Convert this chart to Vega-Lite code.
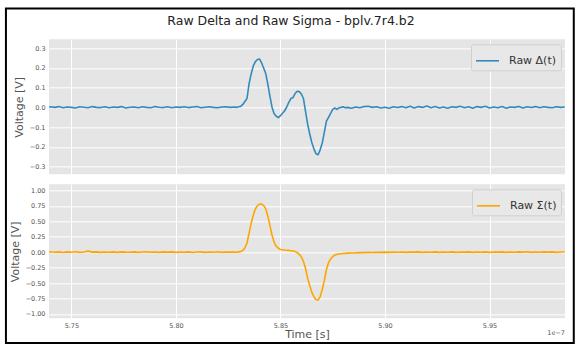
{
  "$schema": "https://vega.github.io/schema/vega-lite/v6.json",
  "autosize": {"type": "pad"},
  "padding": {"left": 4, "top": 7.3, "right": 4, "bottom": 4},
  "background": "white",
  "bounds": "flush",
  "datasets": {
    "sig": [
      {"t": 5.7394, "D": 0.001, "S": 0.004},
      {"t": 5.740, "D": 0.003, "S": 0.008},
      {"t": 5.742, "D": 0.0, "S": 0.0},
      {"t": 5.744, "D": 0.004, "S": 0.006},
      {"t": 5.746, "D": -0.002, "S": -0.004},
      {"t": 5.748, "D": 0.002, "S": 0.005},
      {"t": 5.750, "D": 0.0, "S": 0.0},
      {"t": 5.752, "D": -0.003, "S": 0.007},
      {"t": 5.754, "D": 0.003, "S": -0.003},
      {"t": 5.756, "D": 0.001, "S": 0.004},
      {"t": 5.758, "D": -0.002, "S": 0.018},
      {"t": 5.760, "D": 0.004, "S": 0.002},
      {"t": 5.762, "D": 0.0, "S": 0.006},
      {"t": 5.764, "D": -0.001, "S": -0.002},
      {"t": 5.766, "D": 0.003, "S": 0.004},
      {"t": 5.768, "D": -0.002, "S": 0.0},
      {"t": 5.770, "D": 0.002, "S": 0.005},
      {"t": 5.772, "D": 0.0, "S": -0.003},
      {"t": 5.774, "D": 0.004, "S": 0.006},
      {"t": 5.776, "D": -0.003, "S": 0.002},
      {"t": 5.778, "D": 0.001, "S": 0.0},
      {"t": 5.780, "D": 0.002, "S": 0.006},
      {"t": 5.782, "D": -0.002, "S": -0.002},
      {"t": 5.784, "D": 0.003, "S": 0.004},
      {"t": 5.786, "D": 0.0, "S": 0.007},
      {"t": 5.788, "D": -0.002, "S": 0.0},
      {"t": 5.790, "D": 0.004, "S": 0.003},
      {"t": 5.792, "D": 0.001, "S": -0.003},
      {"t": 5.794, "D": -0.001, "S": 0.005},
      {"t": 5.796, "D": 0.003, "S": 0.002},
      {"t": 5.798, "D": -0.002, "S": 0.006},
      {"t": 5.800, "D": 0.002, "S": -0.002},
      {"t": 5.802, "D": 0.0, "S": 0.004},
      {"t": 5.804, "D": 0.003, "S": 0.0},
      {"t": 5.806, "D": -0.001, "S": 0.006},
      {"t": 5.808, "D": 0.002, "S": -0.004},
      {"t": 5.810, "D": 0.004, "S": 0.003},
      {"t": 5.812, "D": -0.002, "S": 0.006},
      {"t": 5.814, "D": 0.001, "S": -0.002},
      {"t": 5.816, "D": 0.003, "S": 0.004},
      {"t": 5.818, "D": 0.0, "S": 0.0},
      {"t": 5.820, "D": -0.002, "S": 0.007},
      {"t": 5.822, "D": 0.002, "S": -0.003},
      {"t": 5.824, "D": 0.003, "S": 0.004},
      {"t": 5.826, "D": 0.0, "S": 0.002},
      {"t": 5.828, "D": 0.002, "S": 0.003},
      {"t": 5.829, "D": 0.0, "S": 0.0},
      {"t": 5.830, "D": 0.003, "S": 0.005},
      {"t": 5.831, "D": 0.005, "S": 0.01},
      {"t": 5.832, "D": 0.015, "S": 0.03},
      {"t": 5.833, "D": 0.03, "S": 0.07},
      {"t": 5.834, "D": 0.045, "S": 0.15},
      {"t": 5.835, "D": 0.12, "S": 0.31},
      {"t": 5.836, "D": 0.17, "S": 0.47},
      {"t": 5.837, "D": 0.21, "S": 0.6},
      {"t": 5.838, "D": 0.232, "S": 0.7},
      {"t": 5.839, "D": 0.243, "S": 0.755},
      {"t": 5.840, "D": 0.245, "S": 0.78},
      {"t": 5.841, "D": 0.225, "S": 0.78},
      {"t": 5.842, "D": 0.198, "S": 0.755},
      {"t": 5.843, "D": 0.17, "S": 0.7},
      {"t": 5.844, "D": 0.115, "S": 0.58},
      {"t": 5.845, "D": 0.055, "S": 0.43},
      {"t": 5.846, "D": 0.0, "S": 0.27},
      {"t": 5.847, "D": -0.032, "S": 0.16},
      {"t": 5.848, "D": -0.045, "S": 0.095},
      {"t": 5.849, "D": -0.052, "S": 0.065},
      {"t": 5.850, "D": -0.042, "S": 0.045},
      {"t": 5.851, "D": -0.03, "S": 0.04},
      {"t": 5.852, "D": -0.017, "S": 0.035},
      {"t": 5.853, "D": 0.002, "S": 0.033},
      {"t": 5.854, "D": 0.025, "S": 0.03},
      {"t": 5.855, "D": 0.045, "S": 0.025},
      {"t": 5.856, "D": 0.05, "S": 0.02},
      {"t": 5.857, "D": 0.07, "S": 0.01},
      {"t": 5.858, "D": 0.082, "S": -0.005},
      {"t": 5.859, "D": 0.08, "S": -0.035},
      {"t": 5.860, "D": 0.068, "S": -0.075},
      {"t": 5.861, "D": 0.045, "S": -0.15},
      {"t": 5.862, "D": -0.02, "S": -0.26},
      {"t": 5.863, "D": -0.085, "S": -0.42},
      {"t": 5.864, "D": -0.135, "S": -0.54},
      {"t": 5.865, "D": -0.178, "S": -0.65},
      {"t": 5.866, "D": -0.21, "S": -0.72},
      {"t": 5.867, "D": -0.235, "S": -0.765},
      {"t": 5.868, "D": -0.24, "S": -0.775},
      {"t": 5.869, "D": -0.215, "S": -0.72},
      {"t": 5.870, "D": -0.18, "S": -0.6},
      {"t": 5.871, "D": -0.125, "S": -0.46},
      {"t": 5.872, "D": -0.07, "S": -0.28},
      {"t": 5.873, "D": -0.05, "S": -0.17},
      {"t": 5.874, "D": -0.03, "S": -0.11},
      {"t": 5.875, "D": -0.01, "S": -0.07},
      {"t": 5.876, "D": -0.003, "S": -0.045},
      {"t": 5.877, "D": -0.01, "S": -0.035},
      {"t": 5.878, "D": -0.002, "S": -0.03},
      {"t": 5.879, "D": 0.0, "S": -0.025},
      {"t": 5.880, "D": 0.003, "S": -0.02},
      {"t": 5.881, "D": -0.002, "S": -0.018},
      {"t": 5.882, "D": 0.0, "S": -0.015},
      {"t": 5.884, "D": -0.004, "S": -0.012},
      {"t": 5.886, "D": 0.002, "S": -0.01},
      {"t": 5.888, "D": -0.002, "S": -0.006},
      {"t": 5.890, "D": 0.004, "S": -0.007},
      {"t": 5.892, "D": 0.006, "S": -0.003},
      {"t": 5.894, "D": 0.0, "S": -0.004},
      {"t": 5.896, "D": 0.003, "S": 0.0},
      {"t": 5.898, "D": -0.003, "S": -0.003},
      {"t": 5.900, "D": 0.001, "S": 0.002},
      {"t": 5.902, "D": -0.004, "S": -0.002},
      {"t": 5.904, "D": 0.003, "S": 0.003},
      {"t": 5.906, "D": -0.001, "S": 0.0},
      {"t": 5.908, "D": 0.004, "S": 0.004},
      {"t": 5.910, "D": -0.002, "S": -0.002},
      {"t": 5.912, "D": 0.006, "S": 0.003},
      {"t": 5.914, "D": -0.003, "S": 0.001},
      {"t": 5.916, "D": 0.004, "S": 0.005},
      {"t": 5.918, "D": 0.0, "S": -0.002},
      {"t": 5.920, "D": 0.007, "S": 0.004},
      {"t": 5.922, "D": -0.002, "S": 0.0},
      {"t": 5.924, "D": 0.005, "S": 0.006},
      {"t": 5.926, "D": -0.003, "S": -0.002},
      {"t": 5.928, "D": 0.002, "S": 0.003},
      {"t": 5.930, "D": -0.004, "S": 0.0},
      {"t": 5.932, "D": 0.003, "S": 0.005},
      {"t": 5.934, "D": 0.0, "S": -0.003},
      {"t": 5.936, "D": 0.006, "S": 0.004},
      {"t": 5.938, "D": -0.002, "S": 0.001},
      {"t": 5.940, "D": 0.003, "S": 0.006},
      {"t": 5.942, "D": -0.004, "S": -0.002},
      {"t": 5.944, "D": 0.004, "S": 0.003},
      {"t": 5.946, "D": 0.0, "S": 0.0},
      {"t": 5.948, "D": 0.006, "S": 0.005},
      {"t": 5.950, "D": -0.003, "S": -0.002},
      {"t": 5.952, "D": 0.002, "S": 0.004},
      {"t": 5.954, "D": -0.002, "S": 0.001},
      {"t": 5.956, "D": 0.004, "S": 0.006},
      {"t": 5.958, "D": -0.004, "S": -0.003},
      {"t": 5.960, "D": 0.002, "S": 0.004},
      {"t": 5.962, "D": 0.0, "S": 0.0},
      {"t": 5.964, "D": 0.005, "S": 0.005},
      {"t": 5.966, "D": -0.003, "S": 0.001},
      {"t": 5.968, "D": 0.003, "S": 0.007},
      {"t": 5.970, "D": -0.001, "S": -0.002},
      {"t": 5.972, "D": 0.004, "S": 0.004},
      {"t": 5.974, "D": -0.002, "S": 0.0},
      {"t": 5.976, "D": 0.003, "S": 0.006},
      {"t": 5.978, "D": 0.0, "S": 0.002},
      {"t": 5.980, "D": -0.002, "S": 0.005},
      {"t": 5.982, "D": 0.003, "S": -0.002},
      {"t": 5.984, "D": 0.0, "S": 0.004},
      {"t": 5.986, "D": 0.002, "S": 0.008}
    ]
  },
  "spacing": 10,
  "vconcat": [
    {
      "width": 516,
      "height": 135,
      "title": {"text": "Raw Delta and Raw Sigma - bplv.7r4.b2", "anchor": "middle", "frame": "group", "dx": -16, "offset": 12, "fontSize": 12.5, "font": "DejaVu Sans", "fontWeight": "normal", "color": "#222222"},
      "data": {"name": "sig"},
      "mark": {"type": "line", "strokeWidth": 1.6, "strokeJoin": "round"},
      "encoding": {
        "x": {"field": "t", "type": "quantitative", "scale": {"domain": [5.7393, 5.9861], "nice": false, "zero": false}, "axis": {"values": [5.75, 5.8, 5.85, 5.9, 5.95], "tickCount": 20, "labels": false, "title": null}},
        "y": {"field": "D", "type": "quantitative", "scale": {"domain": [-0.339, 0.345], "nice": false, "zero": false}, "axis": {"values": [-0.3, -0.2, -0.1, 0, 0.1, 0.2, 0.3], "tickCount": 20, "format": ".1f", "title": "Voltage [V]", "titlePadding": 5}},
        "color": {"datum": "Raw Δ(t)", "type": "nominal", "scale": {"range": ["#348ABD"]}, "legend": {"title": null}}
      }
    },
    {
      "width": 516,
      "height": 134,
      "layer": [
        {
          "data": {"name": "sig"},
          "mark": {"type": "line", "strokeWidth": 1.6, "strokeJoin": "round"},
          "encoding": {
            "x": {"field": "t", "type": "quantitative", "scale": {"domain": [5.7393, 5.9861], "nice": false, "zero": false}, "axis": {"values": [5.75, 5.8, 5.85, 5.9, 5.95], "tickCount": 20, "format": ".2f", "title": "Time [s]", "titlePadding": 0}},
            "y": {"field": "S", "type": "quantitative", "scale": {"domain": [-1.07, 1.1], "nice": false, "zero": false}, "axis": {"values": [-1, -0.75, -0.5, -0.25, 0, 0.25, 0.5, 0.75, 1], "tickCount": 20, "labelOverlap": false, "format": ".2f", "title": "Voltage [V]", "titlePadding": 5}},
            "color": {"datum": "Raw Σ(t)", "type": "nominal", "scale": {"range": ["#FFA500"]}, "legend": {"title": null}}
          }
        },
        {
          "data": {"values": [{"label": "1e−7"}]},
          "mark": {"type": "text", "align": "right", "baseline": "middle", "fontSize": 6.5, "font": "DejaVu Sans", "color": "#555555", "clip": false},
          "encoding": {
            "x": {"datum": 5.9861, "type": "quantitative"},
            "y": {"datum": -1.308, "type": "quantitative"},
            "text": {"field": "label"}
          }
        },
        {
          "data": {"values": [{"frame": "figure"}]},
          "mark": {"type": "rect", "filled": false, "color": "black", "strokeWidth": 2, "clip": false},
          "encoding": {
            "x": {"datum": 5.7187, "type": "quantitative"},
            "x2": {"datum": 5.9903},
            "y": {"datum": 3.945, "type": "quantitative"},
            "y2": {"datum": -1.472}
          }
        }
      ]
    }
  ],
  "resolve": {"scale": {"color": "independent", "x": "independent", "y": "independent"}, "legend": {"color": "independent"}},
  "config": {
    "font": "DejaVu Sans",
    "view": {"fill": "#E5E5E5", "stroke": null},
    "axis": {"domain": false, "ticks": false, "grid": true, "gridColor": "#FFFFFF", "gridWidth": 1, "gridOpacity": 1, "labelOverlap": false, "labelFlush": false, "labelFont": "DejaVu Sans", "labelFontSize": 6.5, "labelColor": "#555555", "labelPadding": 4, "titleFont": "DejaVu Sans", "titleFontSize": 11, "titleColor": "#555555", "titleFontWeight": "normal"},
    "legend": {"orient": "top-right", "offset": 4.5, "padding": 4, "fillColor": "#E8E8E8", "strokeColor": "#D0D0D0", "cornerRadius": 2, "symbolType": "stroke", "symbolSize": 529, "symbolStrokeWidth": 1.6, "labelOffset": 9, "labelFontSize": 11, "labelFont": "DejaVu Sans", "labelColor": "#333333"}
  }
}
